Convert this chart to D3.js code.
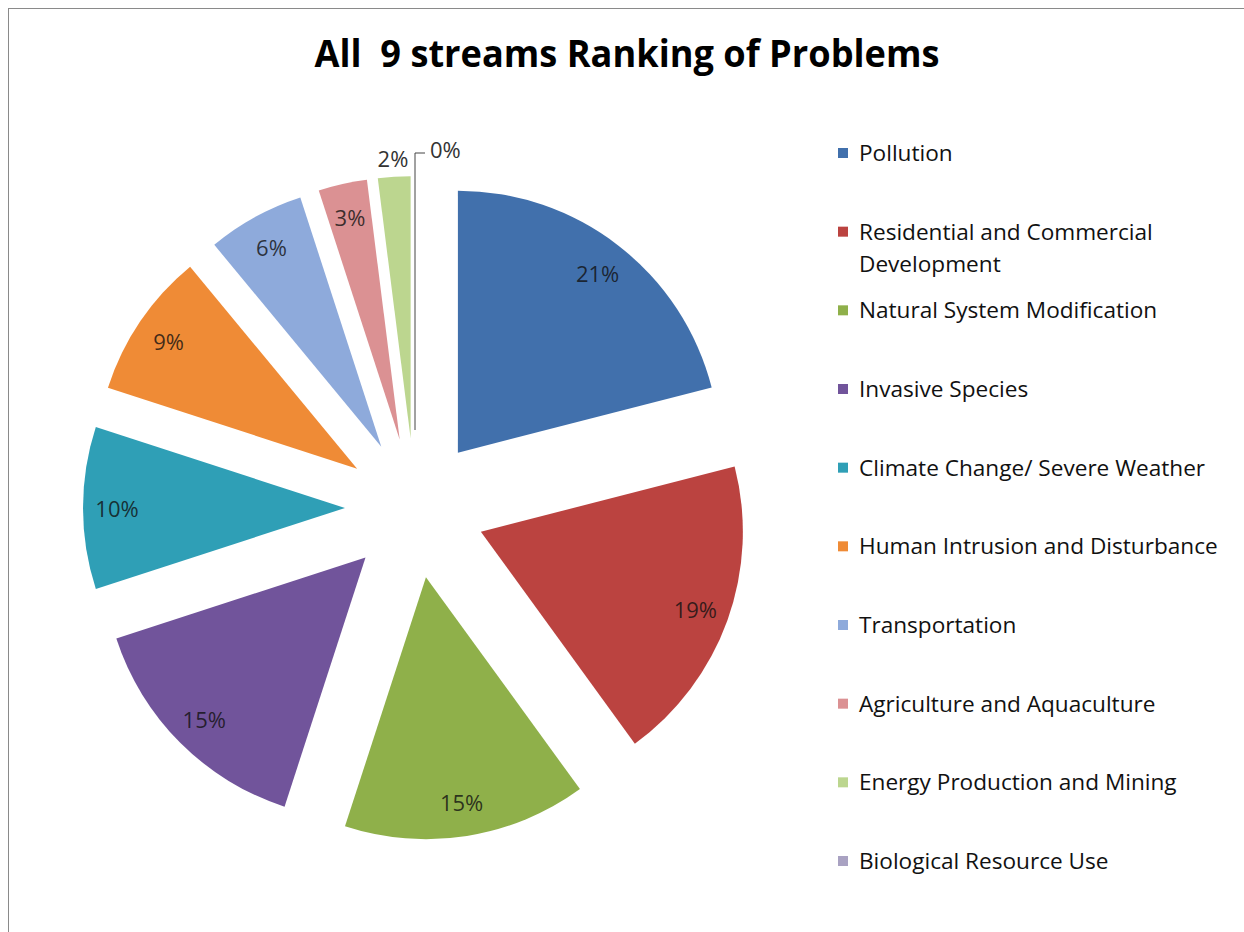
<!DOCTYPE html>
<html>
<head>
<meta charset="utf-8">
<script src="https://cdn.jsdelivr.net/npm/d3@7"></script>
<style>
  html, body { margin: 0; padding: 0; background: #fff; }
  svg { display: block; }
</style>
</head>
<body>
<svg id="chart" width="1244" height="932"></svg>
<script>
// Problem categories, in drawing order (clockwise from 12 o'clock)
const categories = [
  "Pollution",
  "Residential and Commercial Development",
  "Natural System Modification",
  "Invasive Species",
  "Climate Change/ Severe Weather",
  "Human Intrusion and Disturbance",
  "Transportation",
  "Agriculture and Aquaculture",
  "Energy Production and Mining",
  "Biological Resource Use"
];
// Share of all problems, percent
const shares = [21, 19, 15, 15, 10, 9, 6, 3, 2, 0];
// Legend lines (long names wrap onto a second line)
const legendLines = [
  ["Pollution"],
  ["Residential and Commercial", "Development"],
  ["Natural System Modification"],
  ["Invasive Species"],
  ["Climate Change/ Severe Weather"],
  ["Human Intrusion and Disturbance"],
  ["Transportation"],
  ["Agriculture and Aquaculture"],
  ["Energy Production and Mining"],
  ["Biological Resource Use"]
];
const sliceColors = [
  "#4170ac", "#bb4340", "#8fb04a", "#71549b", "#2f9fb6",
  "#ef8b36", "#8eaadb", "#db9193", "#bcd68f", "#a9a2c2"
];
const titleText = "All  9 streams Ranking of Problems";

const svg = d3.select("#chart");
const W = 1244, H = 932;

// chart frame
svg.append("rect")
  .attr("x", 8.5).attr("y", 8.5)
  .attr("width", W + 10).attr("height", H + 10)
  .attr("fill", "#fff").attr("stroke", "#8a8a8a").attr("stroke-width", 1);

// title
svg.append("text")
  .attr("x", 627).attr("y", 67)
  .attr("text-anchor", "middle")
  .attr("font-family", "'Open Sans', sans-serif")
  .attr("font-weight", 700)
  .attr("font-size", 38)
  .attr("fill", "#000")
  .attr("textLength", 625)
  .attr("lengthAdjust", "spacingAndGlyphs")
  .style("white-space", "pre")
  .text(titleText);

// exploded pie
const cx = 415, cy = 508;
const radius = 262, explode = 70, labelR = 228;

const pie = d3.pie().sort(null).value(d => d.value).startAngle(0).endAngle(2 * Math.PI);
const arcs = pie(categories.map((c, i) => ({ name: c, value: shares[i], i })));

const arc = d3.arc().innerRadius(0).outerRadius(radius);

const g = svg.append("g").attr("transform", `translate(${cx},${cy})`);

function offset(d, r) {
  const a = (d.startAngle + d.endAngle) / 2;
  return [Math.sin(a) * r, -Math.cos(a) * r];
}

const slices = g.selectAll("g.slice").data(arcs).join("g")
  .attr("class", "slice")
  .attr("transform", d => `translate(${offset(d, explode)})`);

slices.filter(d => d.value > 0).append("path")
  .attr("d", arc)
  .attr("fill", d => sliceColors[d.data.i]);

// data labels
const labelFont = "'Open Sans', sans-serif";
slices.each(function (d) {
  const sel = d3.select(this);
  const txt = `${d.value}%`;
  if (d.value >= 3) {
    const [x, y] = offset(d, labelR);
    sel.append("text")
      .attr("x", x).attr("y", y)
      .attr("text-anchor", "middle").attr("dominant-baseline", "central")
      .attr("font-family", labelFont).attr("font-size", 22)
      .attr("fill", "#111").attr("fill-opacity", 0.8)
      .text(txt);
  } else if (d.value > 0) {
    const [x, y] = offset(d, radius + 19);
    sel.append("text")
      .attr("x", x).attr("y", y)
      .attr("text-anchor", "middle").attr("dominant-baseline", "central")
      .attr("font-family", labelFont).attr("font-size", 22)
      .attr("fill", "#333")
      .text(txt);
  } else {
    // zero share: leader line from the slice up to a label on the right
    const top = -(radius + 23);
    sel.append("path")
      .attr("d", `M0,-8V${top}H10`)
      .attr("fill", "none").attr("stroke", "#444").attr("stroke-width", 1);
    sel.append("text")
      .attr("x", 15).attr("y", top - 4)
      .attr("dominant-baseline", "central")
      .attr("font-family", labelFont).attr("font-size", 22)
      .attr("fill", "#333")
      .text(txt);
  }
});

// legend
const legendY = d3.scaleLinear().domain([0, categories.length - 1]).range([153, 861]);
const legend = svg.append("g");
const items = legend.selectAll("g").data(categories).join("g")
  .attr("transform", (d, i) => `translate(838,${legendY(i)})`);
items.append("rect")
  .attr("x", 0).attr("y", -5).attr("width", 10).attr("height", 10)
  .attr("fill", (d, i) => sliceColors[i]);
items.each(function (d, i) {
  const t = d3.select(this).append("text")
    .attr("x", 21).attr("y", 8)
    .attr("font-family", labelFont).attr("font-size", 22.6)
    .attr("fill", "#111");
  legendLines[i].forEach((line, k) => {
    t.append("tspan").attr("x", 21).attr("dy", k === 0 ? 0 : 32).text(line);
  });
});
</script>
</body>
</html>
